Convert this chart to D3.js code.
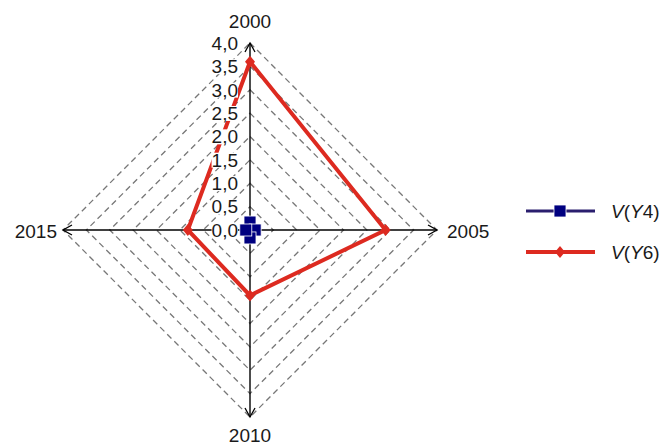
<!DOCTYPE html>
<html>
<head>
<meta charset="utf-8">
<script src="https://cdn.jsdelivr.net/npm/d3@7/dist/d3.min.js"></script>
<style>
  html, body { margin: 0; padding: 0; background: #fff; }
  svg { display: block; font-family: "Liberation Sans", Arial, sans-serif; }
</style>
</head>
<body>
<svg id="chart" width="663" height="446"></svg>
<script>
// Radar axes (clockwise from top) and the two series
const categories = ["2000", "2005", "2010", "2015"];
const seriesNames = ["Y4", "Y6"];
const valuesY4 = [0.17, 0.11, 0.17, 0.09];
const valuesY6 = [3.6, 2.9, 1.4, 1.33];
const tickValues = [0, 0.5, 1, 1.5, 2, 2.5, 3, 3.5, 4];
const tickLabels = ["0,0", "0,5", "1,0", "1,5", "2,0", "2,5", "3,0", "3,5", "4,0"];

const svg = d3.select("#chart");
const cx = 250, cy = 230, R = 187;
const FS = 19;
const textColor = "#1a1a1a";

const r = d3.scaleLinear().domain([0, 4]).range([0, R]);
const angle = d3.scalePoint().domain(categories).range([0, 2 * Math.PI * 3 / 4]);

const pt = (cat, v) => {
  const a = angle(cat) - Math.PI / 2;
  return [cx + r(v) * Math.cos(a), cy + r(v) * Math.sin(a)];
};

// Dashed grid diamonds
const gridG = svg.append("g");
tickValues.filter(v => v > 0).forEach(v => {
  gridG.append("path")
    .attr("d", d3.line()(categories.map(c => pt(c, v))) + "Z")
    .attr("fill", "none")
    .attr("stroke", "#777")
    .attr("stroke-width", 1.3)
    .attr("stroke-dasharray", "6,4");
});

// Axes with open arrowheads
const axG = svg.append("g");
categories.forEach(c => {
  const [x2, y2] = pt(c, 4);
  axG.append("line")
    .attr("x1", cx).attr("y1", cy).attr("x2", x2).attr("y2", y2)
    .attr("stroke", "#000").attr("stroke-width", 1.4);
  const a = angle(c) - Math.PI / 2;
  const back = 9, spread = 5;
  const bx = x2 - back * Math.cos(a), by = y2 - back * Math.sin(a);
  const nx = -Math.sin(a), ny = Math.cos(a);
  axG.append("path")
    .attr("d", d3.line()([[bx + spread * nx, by + spread * ny], [x2, y2], [bx - spread * nx, by - spread * ny]]))
    .attr("fill", "none").attr("stroke", "#000").attr("stroke-width", 1.3);
});

// Category labels
const catPos = {
  "2000": { x: cx, y: cy - R - 22, anchor: "middle" },
  "2005": { x: cx + R + 10, y: cy + 1, anchor: "start" },
  "2010": { x: cx, y: cy + R + 18, anchor: "middle" },
  "2015": { x: cx - R - 6, y: cy + 1, anchor: "end" }
};
categories.forEach(c => {
  const p = catPos[c];
  svg.append("text")
    .attr("x", p.x).attr("y", p.y)
    .attr("dy", "0.36em")
    .attr("text-anchor", p.anchor)
    .attr("font-size", FS)
    .attr("fill", textColor)
    .text(c);
});

const lineGen = d3.line();

// V(Y6) series
const y6Pts = categories.map((c, i) => pt(c, valuesY6[i]));
svg.append("path")
  .attr("d", lineGen(y6Pts) + "Z")
  .attr("fill", "none").attr("stroke", "#dd2a20").attr("stroke-width", 4)
  .attr("stroke-linejoin", "miter");
svg.append("g").selectAll("path").data(y6Pts).join("path")
  .attr("d", d => `M${d[0]},${d[1] - 6}L${d[0] + 5},${d[1]}L${d[0]},${d[1] + 6}L${d[0] - 5},${d[1]}Z`)
  .attr("fill", "#dd2a20");

// V(Y4) series
const y4Pts = categories.map((c, i) => pt(c, valuesY4[i]));
svg.append("path")
  .attr("d", lineGen(y4Pts) + "Z")
  .attr("fill", "none").attr("stroke", "#2a1e6e").attr("stroke-width", 3);
svg.append("g").selectAll("rect").data(y4Pts).join("rect")
  .attr("x", d => d[0] - 6).attr("y", d => d[1] - 6)
  .attr("width", 12).attr("height", 12)
  .attr("fill", "#000080")
  .attr("stroke", "#fff").attr("stroke-width", 0.8);

// Tick labels along the top axis, on white backing so they sit above the series
const tickG = svg.append("g");
tickValues.forEach((v, i) => {
  const [, y] = pt(categories[0], v);
  const g = tickG.append("g");
  const t = g.append("text")
    .attr("x", cx - 12).attr("y", y)
    .attr("dy", "0.36em")
    .attr("text-anchor", "end")
    .attr("font-size", FS)
    .attr("fill", textColor)
    .text(tickLabels[i]);
  const bb = t.node().getBBox();
  g.insert("rect", "text")
    .attr("x", bb.x).attr("y", bb.y + 3)
    .attr("width", bb.width).attr("height", bb.height - 6)
    .attr("fill", "#fff");
});

// Legend
const legend = svg.append("g");
const legendItems = [
  { name: seriesNames[0], color: "#2a1e6e", mark: "#000080", type: "square", y: 211 },
  { name: seriesNames[1], color: "#dd2a20", mark: "#dd2a20", type: "diamond", y: 252 }
];
legendItems.forEach(it => {
  legend.append("line")
    .attr("x1", 526).attr("x2", 595).attr("y1", it.y).attr("y2", it.y)
    .attr("stroke", it.color).attr("stroke-width", it.type === "square" ? 3 : 4);
  if (it.type === "square") {
    legend.append("rect").attr("x", 554).attr("y", it.y - 6).attr("width", 12).attr("height", 12)
      .attr("fill", it.mark).attr("stroke", "#fff").attr("stroke-width", 0.8);
  } else {
    legend.append("path")
      .attr("d", `M560,${it.y - 6}L565,${it.y}L560,${it.y + 6}L555,${it.y}Z`)
      .attr("fill", it.mark);
  }
  const t = legend.append("text")
    .attr("x", 611).attr("y", it.y).attr("dy", "0.36em")
    .attr("font-size", FS).attr("fill", textColor);
  t.append("tspan").attr("font-style", "italic").text("V");
  t.append("tspan").text("(");
  t.append("tspan").attr("font-style", "italic").text("Y");
  t.append("tspan").text(it.name.slice(1) + ")");
});
</script>
</body>
</html>
